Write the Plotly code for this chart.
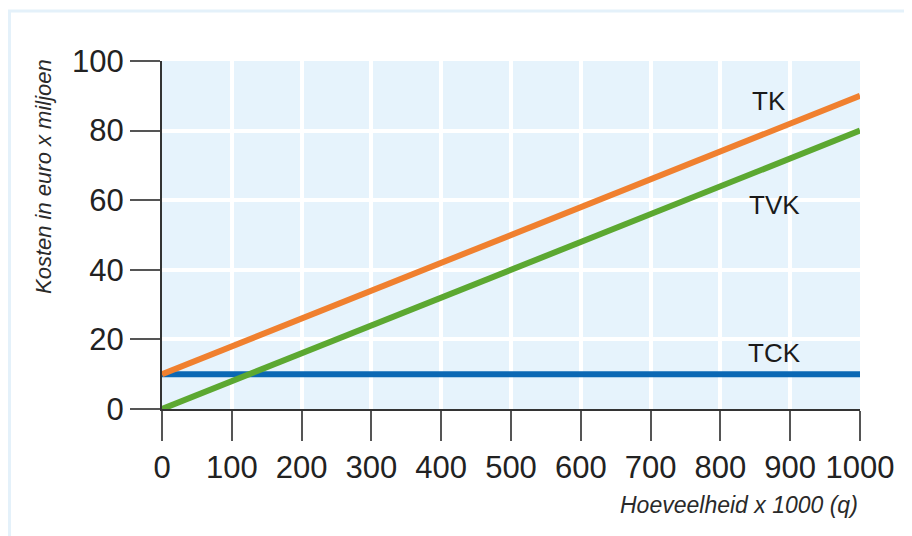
import plotly.graph_objects as go

# Data
q = [0, 1000]
tk = [10, 90]
tvk = [0, 80]
tck = [10, 10]
x_ticks = [0, 100, 200, 300, 400, 500, 600, 700, 800, 900, 1000]
y_ticks = [0, 20, 40, 60, 80, 100]
labels = [("TK", 870, 88.5), ("TVK", 878, 58.5), ("TCK", 878, 16)]

OFF = 8  # page body margin
W, H = 912 - OFF, 536 - OFF
L, T = 162 - OFF, 61 - OFF
pw, ph = 698, 348
R, B = W - L - pw, H - T - ph

def px(xp):
    return (xp - OFF - L) / pw

def py(yp):
    return (T + ph - (yp - OFF)) / ph

font_main = "Liberation Sans, Arial, sans-serif"

fig = go.Figure()
fig.add_trace(go.Scatter(x=q, y=tck, mode="lines", line=dict(color="#0b68b4", width=6), cliponaxis=False))
fig.add_trace(go.Scatter(x=q, y=tvk, mode="lines", line=dict(color="#5ca831", width=6), cliponaxis=False))
fig.add_trace(go.Scatter(x=q, y=tk, mode="lines", line=dict(color="#f0802f", width=6), cliponaxis=False))

annotations = []
for txt, xv, yv in labels:
    annotations.append(dict(x=xv, y=yv, xref="x", yref="y", text=txt, showarrow=False,
                            font=dict(family=font_main, size=26, color="#1a1a1a")))
annotations.append(dict(x=px(860), y=py(505), xref="paper", yref="paper", xanchor="right", yanchor="middle",
                        text="<i>Hoeveelheid x 1000 (q)</i>", showarrow=False,
                        font=dict(family=font_main, size=23, color="#2a2a2a")))
annotations.append(dict(x=px(43), y=py(177), xref="paper", yref="paper", xanchor="center", yanchor="middle",
                        text="<i>Kosten in euro x miljoen</i>", textangle=-90, showarrow=False,
                        font=dict(family=font_main, size=22, color="#2a2a2a")))

shapes = [
    dict(type="line", xref="paper", yref="paper", x0=px(8), x1=px(912), y0=py(11), y1=py(11),
         line=dict(color="#e4f1fa", width=3), layer="below"),
    dict(type="line", xref="paper", yref="paper", x0=px(9.5), x1=px(9.5), y0=py(11), y1=py(536),
         line=dict(color="#e4f1fa", width=3), layer="below"),
]

fig.update_layout(
    width=W, height=H,
    margin=dict(l=L, r=R, t=T, b=B),
    paper_bgcolor="white",
    plot_bgcolor="#e6f3fc",
    showlegend=False,
    annotations=annotations,
    shapes=shapes,
    font=dict(family=font_main, color="#222222"),
)
fig.update_xaxes(
    range=[0, 1000], tickvals=x_ticks, ticktext=[str(v) for v in x_ticks],
    showgrid=True, gridcolor="white", gridwidth=4,
    showline=True, linecolor="#333333", linewidth=2,
    ticks="outside", ticklen=30, tickwidth=1.5, tickcolor="#555555",
    tickfont=dict(size=31, color="#222222"), zeroline=False,
)
fig.update_yaxes(
    range=[0, 100], tickvals=y_ticks, ticktext=[str(v) for v in y_ticks],
    showgrid=True, gridcolor="white", gridwidth=4,
    showline=True, linecolor="#333333", linewidth=2,
    ticks="outside", ticklen=30, tickwidth=1.5, tickcolor="#555555",
    tickfont=dict(size=31, color="#222222"), zeroline=False,
)

fig.write_html("out.html")
